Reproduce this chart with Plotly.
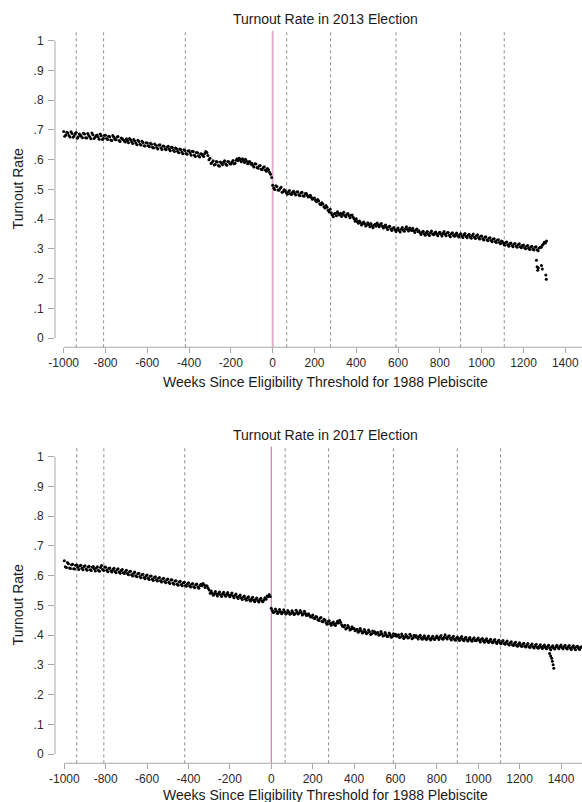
import plotly.graph_objects as go
from plotly.subplots import make_subplots

# ---------------- data ----------------
weeks_2013 = list(range(-1000, 1311, 10))
turnout_2013 = [
    0.695, 0.683, 0.690, 0.676, 0.688, 0.680, 0.691, 0.677, 0.683, 0.674,
    0.686, 0.673, 0.681, 0.670, 0.684, 0.675, 0.683, 0.669, 0.680, 0.672,
    0.682, 0.668, 0.677, 0.664, 0.675, 0.667, 0.678, 0.661, 0.670, 0.663,
    0.670, 0.657, 0.667, 0.654, 0.663, 0.650, 0.661, 0.649, 0.658, 0.646,
    0.656, 0.643, 0.652, 0.639, 0.649, 0.636, 0.650, 0.634, 0.645, 0.633,
    0.645, 0.630, 0.641, 0.627, 0.637, 0.623, 0.634, 0.620, 0.631, 0.618,
    0.630, 0.615, 0.627, 0.611, 0.623, 0.609, 0.619, 0.611, 0.627, 0.614,
    0.605, 0.590, 0.582, 0.594, 0.580, 0.592, 0.583, 0.596, 0.581, 0.593,
    0.585, 0.597, 0.588, 0.603, 0.605, 0.593, 0.598, 0.601, 0.586, 0.594,
    0.588, 0.575, 0.585, 0.571, 0.580, 0.566, 0.576, 0.561, 0.566, 0.551,
    0.514, 0.500, 0.510, 0.497, 0.507, 0.492, 0.495, 0.484, 0.496, 0.483,
    0.494, 0.481, 0.492, 0.479, 0.490, 0.477, 0.487, 0.474, 0.480, 0.467,
    0.471, 0.458, 0.462, 0.448, 0.451, 0.437, 0.440, 0.424, 0.421, 0.408,
    0.420, 0.425, 0.414, 0.409, 0.423, 0.408, 0.419, 0.405, 0.414, 0.400,
    0.401, 0.386, 0.389, 0.384, 0.385, 0.380, 0.382, 0.385, 0.371, 0.383,
    0.387, 0.374, 0.385, 0.370, 0.380, 0.365, 0.376, 0.362, 0.372, 0.358,
    0.370, 0.357, 0.372, 0.359, 0.374, 0.360, 0.364, 0.369, 0.355, 0.367,
    0.361, 0.348, 0.359, 0.346, 0.358, 0.345, 0.360, 0.347, 0.357, 0.344,
    0.356, 0.343, 0.358, 0.344, 0.355, 0.341, 0.354, 0.342, 0.353, 0.340,
    0.351, 0.338, 0.352, 0.337, 0.349, 0.336, 0.350, 0.335, 0.347, 0.333,
    0.343, 0.330, 0.341, 0.327, 0.337, 0.324, 0.334, 0.321, 0.331, 0.317,
    0.324, 0.312, 0.323, 0.309, 0.320, 0.307, 0.318, 0.305, 0.317, 0.304,
    0.313, 0.300, 0.311, 0.298, 0.309, 0.296, 0.307, 0.294, 0.305, 0.312,
    0.322, 0.326,
]
weeks_2013_mid = list(range(-995, 1306, 10))
turnout_2013_mid = [
    0.679, 0.692, 0.681, 0.694, 0.675, 0.687, 0.672, 0.686, 0.678, 0.689,
    0.674, 0.688, 0.676, 0.690, 0.671, 0.680, 0.676, 0.686, 0.668, 0.682,
    0.671, 0.679, 0.666, 0.681, 0.669, 0.676, 0.664, 0.673, 0.667, 0.659,
    0.664, 0.671, 0.660, 0.668, 0.656, 0.665, 0.652, 0.662, 0.647, 0.657,
    0.647, 0.655, 0.642, 0.653, 0.641, 0.648, 0.640, 0.646, 0.636, 0.642,
    0.635, 0.642, 0.632, 0.639, 0.628, 0.636, 0.625, 0.633, 0.621, 0.629,
    0.622, 0.628, 0.616, 0.624, 0.613, 0.620, 0.615, 0.621, 0.624, 0.600,
    0.587, 0.596, 0.584, 0.592, 0.578, 0.588, 0.591, 0.585, 0.594, 0.586,
    0.591, 0.586, 0.598, 0.596, 0.600, 0.603, 0.590, 0.595, 0.592, 0.585,
    0.580, 0.586, 0.574, 0.579, 0.568, 0.574, 0.565, 0.570, 0.558, 0.540,
    0.505, 0.512, 0.498, 0.503, 0.490, 0.499, 0.489, 0.491, 0.485, 0.490,
    0.486, 0.491, 0.482, 0.488, 0.479, 0.485, 0.480, 0.476, 0.473, 0.470,
    0.463, 0.466, 0.452, 0.455, 0.442, 0.446, 0.430, 0.433, 0.414, 0.418,
    0.411, 0.418, 0.420, 0.416, 0.412, 0.416, 0.411, 0.413, 0.406, 0.393,
    0.392, 0.394, 0.380, 0.390, 0.377, 0.388, 0.374, 0.378, 0.379, 0.376,
    0.380, 0.382, 0.376, 0.377, 0.372, 0.374, 0.367, 0.369, 0.364, 0.365,
    0.362, 0.366, 0.363, 0.368, 0.365, 0.370, 0.362, 0.361, 0.363, 0.358,
    0.354, 0.356, 0.351, 0.354, 0.349, 0.355, 0.350, 0.354, 0.349, 0.353,
    0.349, 0.352, 0.349, 0.354, 0.346, 0.351, 0.345, 0.349, 0.344, 0.348,
    0.343, 0.347, 0.342, 0.346, 0.340, 0.345, 0.339, 0.344, 0.337, 0.342,
    0.334, 0.339, 0.331, 0.336, 0.328, 0.333, 0.325, 0.330, 0.321, 0.326,
    0.318, 0.321, 0.314, 0.318, 0.311, 0.316, 0.309, 0.314, 0.307, 0.311,
    0.304, 0.309, 0.302, 0.306, 0.299, 0.305, 0.297, 0.303, 0.305, 0.316,
    0.320,
]
outlier_weeks_2013 = [1262, 1265, 1268, 1271, 1286, 1290, 1307, 1309]
outlier_turnout_2013 = [0.262, 0.240, 0.228, 0.236, 0.244, 0.232, 0.212, 0.198]

weeks_2017 = list(range(-1000, 1501, 10))
turnout_2017 = [
    0.650, 0.627, 0.640, 0.624, 0.638, 0.622, 0.636, 0.621, 0.635, 0.620,
    0.633, 0.618, 0.632, 0.617, 0.631, 0.616, 0.630, 0.615, 0.634, 0.617,
    0.628, 0.613, 0.626, 0.612, 0.625, 0.610, 0.623, 0.608, 0.621, 0.607,
    0.618, 0.603, 0.615, 0.599, 0.612, 0.596, 0.608, 0.593, 0.605, 0.590,
    0.602, 0.587, 0.599, 0.584, 0.596, 0.582, 0.594, 0.579, 0.591, 0.576,
    0.589, 0.574, 0.586, 0.571, 0.583, 0.568, 0.581, 0.566, 0.578, 0.564,
    0.576, 0.562, 0.574, 0.559, 0.572, 0.558, 0.571, 0.574, 0.560, 0.565,
    0.552, 0.548, 0.534, 0.547, 0.532, 0.545, 0.530, 0.544, 0.531, 0.543,
    0.529, 0.542, 0.526, 0.538, 0.523, 0.535, 0.520, 0.532, 0.517, 0.529,
    0.515, 0.527, 0.512, 0.525, 0.511, 0.524, 0.512, 0.526, 0.532, 0.537,
    0.490, 0.476, 0.488, 0.473, 0.486, 0.472, 0.485, 0.471, 0.483, 0.470,
    0.482, 0.469, 0.484, 0.471, 0.483, 0.468, 0.480, 0.466, 0.472, 0.461,
    0.468, 0.456, 0.461, 0.449, 0.459, 0.445, 0.450, 0.437, 0.448, 0.433,
    0.444, 0.432, 0.447, 0.450, 0.435, 0.428, 0.421, 0.432, 0.417, 0.428,
    0.422, 0.417, 0.410, 0.422, 0.407, 0.419, 0.405, 0.417, 0.402, 0.414,
    0.411, 0.407, 0.400, 0.412, 0.397, 0.409, 0.395, 0.407, 0.393, 0.405,
    0.403, 0.398, 0.392, 0.404, 0.389, 0.402, 0.390, 0.403, 0.388, 0.400,
    0.399, 0.387, 0.400, 0.386, 0.398, 0.385, 0.397, 0.384, 0.396, 0.385,
    0.397, 0.385, 0.399, 0.386, 0.401, 0.387, 0.398, 0.384, 0.396, 0.383,
    0.394, 0.382, 0.395, 0.381, 0.393, 0.380, 0.392, 0.379, 0.391, 0.381,
    0.390, 0.377, 0.389, 0.376, 0.388, 0.375, 0.386, 0.374, 0.385, 0.372,
    0.383, 0.371, 0.382, 0.369, 0.380, 0.367, 0.378, 0.365, 0.376, 0.363,
    0.374, 0.362, 0.373, 0.360, 0.372, 0.358, 0.370, 0.357, 0.369, 0.356,
    0.368, 0.355, 0.367, 0.354, 0.366, 0.351, 0.364, 0.353, 0.366, 0.354,
    0.367, 0.354, 0.366, 0.353, 0.365, 0.352, 0.364, 0.351, 0.363, 0.352,
    0.361,
]
weeks_2017_mid = list(range(-995, 1496, 10))
turnout_2017_mid = [
    0.630, 0.644, 0.626, 0.637, 0.623, 0.635, 0.628, 0.633, 0.625, 0.631,
    0.622, 0.629, 0.620, 0.628, 0.623, 0.626, 0.618, 0.627, 0.621, 0.629,
    0.618, 0.624, 0.616, 0.621, 0.614, 0.620, 0.612, 0.617, 0.610, 0.614,
    0.607, 0.613, 0.603, 0.608, 0.600, 0.606, 0.597, 0.603, 0.594, 0.599,
    0.591, 0.598, 0.588, 0.594, 0.586, 0.591, 0.583, 0.589, 0.580, 0.586,
    0.578, 0.585, 0.575, 0.582, 0.572, 0.579, 0.570, 0.576, 0.567, 0.573,
    0.566, 0.571, 0.563, 0.569, 0.562, 0.567, 0.566, 0.569, 0.566, 0.558,
    0.541, 0.541, 0.539, 0.538, 0.540, 0.536, 0.539, 0.535, 0.538, 0.534,
    0.536, 0.532, 0.534, 0.528, 0.531, 0.525, 0.528, 0.522, 0.526, 0.519,
    0.522, 0.517, 0.521, 0.516, 0.520, 0.515, 0.519, 0.521, 0.529, 0.530,
    0.483, 0.478, 0.481, 0.477, 0.479, 0.476, 0.478, 0.474, 0.477, 0.473,
    0.476, 0.472, 0.477, 0.474, 0.476, 0.471, 0.473, 0.468, 0.466, 0.462,
    0.458, 0.463, 0.452, 0.457, 0.447, 0.453, 0.441, 0.446, 0.439, 0.441,
    0.436, 0.440, 0.441, 0.443, 0.430, 0.433, 0.424, 0.426, 0.420, 0.422,
    0.415, 0.420, 0.413, 0.415, 0.410, 0.412, 0.408, 0.411, 0.405, 0.408,
    0.404, 0.409, 0.402, 0.405, 0.399, 0.402, 0.397, 0.401, 0.395, 0.399,
    0.396, 0.401, 0.394, 0.397, 0.393, 0.396, 0.392, 0.397, 0.391, 0.394,
    0.392, 0.395, 0.390, 0.393, 0.389, 0.392, 0.388, 0.391, 0.387, 0.392,
    0.391, 0.394, 0.389, 0.393, 0.391, 0.395, 0.389, 0.392, 0.386, 0.390,
    0.387, 0.390, 0.385, 0.389, 0.384, 0.388, 0.383, 0.387, 0.382, 0.386,
    0.383, 0.386, 0.381, 0.384, 0.379, 0.382, 0.377, 0.381, 0.376, 0.379,
    0.374, 0.378, 0.372, 0.376, 0.370, 0.374, 0.368, 0.372, 0.366, 0.370,
    0.365, 0.369, 0.363, 0.367, 0.361, 0.366, 0.360, 0.364, 0.359, 0.363,
    0.359, 0.363, 0.358, 0.362, 0.357, 0.360, 0.356, 0.361, 0.358, 0.362,
    0.358, 0.362, 0.357, 0.361, 0.356, 0.360, 0.357, 0.361, 0.355, 0.359,
]
outlier_weeks_2017 = [1345, 1350, 1355, 1358, 1362, 1365]
outlier_turnout_2017 = [0.338, 0.330, 0.322, 0.312, 0.300, 0.289]

election_weeks = [-940, -809, -418, 67, 277, 590, 899, 1108]
threshold_week = 0

titles = ["Turnout Rate in 2013 Election", "Turnout Rate in 2017 Election"]
x_title = "Weeks Since Eligibility Threshold for 1988 Plebiscite"
y_title = "Turnout Rate"
x_ticks = [-1000, -800, -600, -400, -200, 0, 200, 400, 600, 800, 1000, 1200, 1400]
x_ticktext = ["-1000", "-800", "-600", "-400", "-200", "0", "200", "400", "600",
              "800", "1000", "1200", "1400"]
y_ticks = [0, 0.1, 0.2, 0.3, 0.4, 0.5, 0.6, 0.7, 0.8, 0.9, 1.0]
y_ticktext = ["0", ".1", ".2", ".3", ".4", ".5", ".6", ".7", ".8", ".9", "1"]

# ---------------- figure ----------------
W, H = 582, 802
FONT = "Liberation Sans, Arial, sans-serif"
AXC = "#a8a8a8"

fig = make_subplots(rows=2, cols=1)

series = [
    (weeks_2013 + weeks_2013_mid + outlier_weeks_2013,
     turnout_2013 + turnout_2013_mid + outlier_turnout_2013),
    (weeks_2017 + weeks_2017_mid + outlier_weeks_2017,
     turnout_2017 + turnout_2017_mid + outlier_turnout_2017),
]
for i, (wx, wy) in enumerate(series, start=1):
    fig.add_trace(go.Scatter(x=wx, y=wy, mode="markers",
                             marker=dict(color="black", size=3.0, line=dict(width=0)),
                             showlegend=False, hoverinfo="skip"), row=i, col=1)

x_ranges = [[-1041.6, 1480.0], [-1045.0, 1501.4]]
y_range = [-0.031, 1.0336]
y_domains = [[0.5670, 0.9617], [0.04825, 0.4430]]
threshold_styles = [dict(color="#e0b2d0", width=2), dict(color="#c8669e", width=1)]

for i in (1, 2):
    xa = "xaxis" if i == 1 else "xaxis2"
    ya = "yaxis" if i == 1 else "yaxis2"
    fig.layout[xa].update(range=x_ranges[i - 1], domain=[0, 1], tickvals=x_ticks,
                          ticktext=x_ticktext,
                          ticks="outside", ticklen=5, tickcolor=AXC, showgrid=False,
                          zeroline=False, showline=False, ticklabelstandoff=-1,
                          tickfont=dict(size=12, color="#2a2a2a", family=FONT))
    fig.layout[ya].update(range=y_range, domain=y_domains[i - 1], tickvals=y_ticks,
                          ticktext=y_ticktext, ticks="outside", ticklen=6, tickcolor=AXC,
                          showgrid=False, zeroline=False, showline=False,
                          ticklabelstandoff=2,
                          tickfont=dict(size=12, color="#2a2a2a", family=FONT))
    xr = "x" if i == 1 else "x2"
    yr = "y" if i == 1 else "y2"
    # election reference lines
    for wk in election_weeks:
        fig.add_shape(type="line", xref=xr, yref=yr + " domain", x0=wk, x1=wk, y0=0, y1=1,
                      line=dict(color="#8c8c8c", width=1, dash="3px,3px"), layer="below")
    fig.add_shape(type="line", xref=xr, yref=yr + " domain", x0=threshold_week,
                  x1=threshold_week, y0=0, y1=1, line=threshold_styles[i - 1], layer="below")
    # Stata-style axis lines
    fig.add_shape(type="line", xref=xr, yref=yr + " domain", x0=-1000,
                  x1=x_ranges[i - 1][1], y0=0, y1=0, line=dict(color=AXC, width=1))
    fig.add_shape(type="line", xref=xr + " domain", yref=yr, x0=0, x1=0, y0=0, y1=1,
                  line=dict(color=AXC, width=1))
    # titles
    fig.add_annotation(text=titles[i - 1], xref="paper", yref="paper",
                       x=(325 - 55) / 527, y=1 - (19 if i == 1 else 435) / H,
                       showarrow=False, xanchor="center", yanchor="middle",
                       font=dict(size=14, color="#1a1a1a", family=FONT))
    fig.add_annotation(text=x_title, xref="paper", yref="paper",
                       x=(325 - 55) / 527, y=1 - (382 if i == 1 else 795) / H,
                       showarrow=False, xanchor="center", yanchor="middle",
                       font=dict(size=14, color="#1a1a1a", family=FONT))
    fig.add_annotation(text=y_title, xref="paper", yref=yr, x=(18 - 55) / 527, y=0.5,
                       textangle=-90, showarrow=False, xanchor="center", yanchor="middle",
                       font=dict(size=14, color="#1a1a1a", family=FONT))

fig.update_layout(width=W, height=H, margin=dict(l=55, r=0, t=0, b=0, autoexpand=False),
                  plot_bgcolor="white", paper_bgcolor="white", hovermode=False,
                  font=dict(family=FONT, size=12, color="#2a2a2a"))
fig.write_html("out.html", config={"displayModeBar": False, "staticPlot": True},
               post_script="document.body.style.margin='0';document.body.style.overflow='hidden';")
